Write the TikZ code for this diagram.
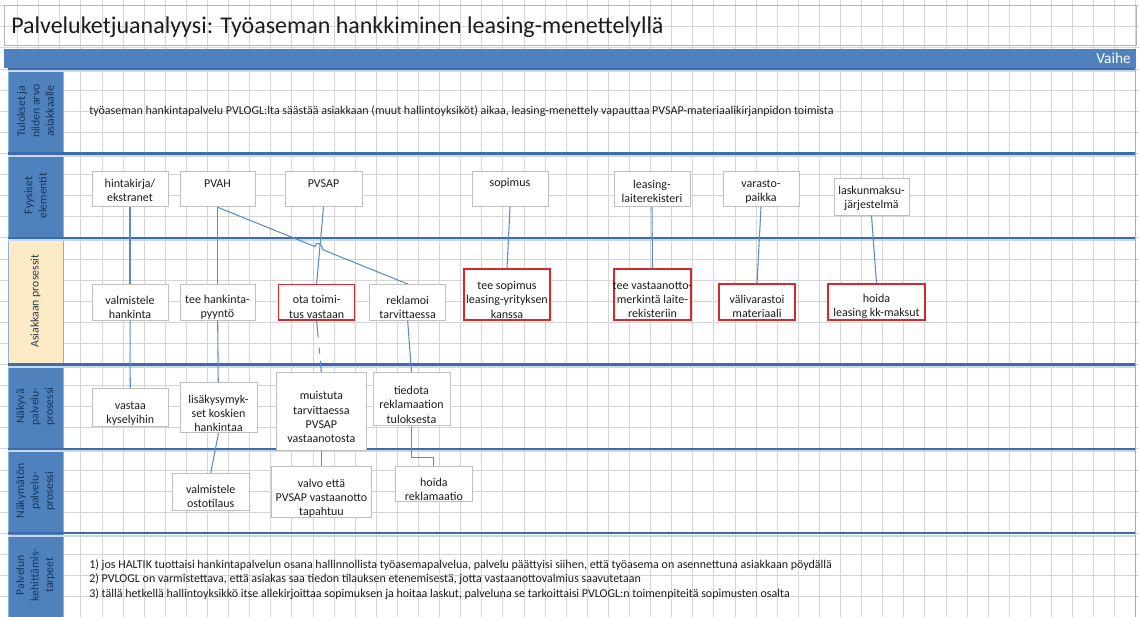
\documentclass[tikz,border=0pt]{standalone}
\usepackage{fontspec}
\setmainfont{Carlito}
\usetikzlibrary{fit,calc}

\definecolor{gridc}{HTML}{D5D5D5}
\definecolor{bandblue}{HTML}{4F81BD}
\definecolor{laneline}{HTML}{3D6CA6}
\definecolor{laneglow}{HTML}{C8D7EB}
\definecolor{laneedge}{HTML}{8FB0D8}
\definecolor{labeltext}{HTML}{17365D}
\definecolor{custfill}{HTML}{FDEBC6}
\definecolor{custtext}{HTML}{2E3A4C}
\definecolor{boxgray}{HTML}{BFBFBF}
\definecolor{boxred}{HTML}{D9272E}
\definecolor{linkblue}{HTML}{5B8CC8}
\definecolor{textdark}{HTML}{1C1C1C}
\definecolor{titleframe}{HTML}{A9B7CA}

\newcommand\pvboxfont{\fontsize{9}{10.6}\selectfont}
\newcommand\pvlabelfont{\fontsize{8.8}{10.8}\selectfont}
\newcommand\pvtitlefont{\fontsize{18}{21}\selectfont}

\tikzset{
  gridline/.style={draw=gridc, line width=0.6pt},
  lanesep/.style={draw=laneline, line width=1.8pt},
  laneshade/.style={draw=laneglow, line width=1.6pt},
  laneborder/.style={draw=laneedge, line width=0.7pt},
  gbox/.style={draw=boxgray, line width=0.75pt, fill=white, inner sep=0pt},
  rbox/.style={gbox, draw=boxred, line width=1.1pt},
  btext/.style={align=center, font=\pvboxfont, text=textdark, inner sep=0pt},
  plaintext/.style={font=\pvboxfont, text=textdark, inner sep=0pt},
  link/.style={draw=linkblue, line width=0.8pt},
  lanelabel/.style={rotate=90, align=center, font=\pvlabelfont, text=labeltext, inner sep=0pt},
}

\begin{document}
\begin{tikzpicture}[x=0.75pt, y=-0.75pt]
\useasboundingbox (0,0) rectangle (1139,617);
\fill[white] (0,0) rectangle (1139,617);

% spreadsheet grid
\foreach \k in {0,...,53}
  \draw[gridline] ({17.5+21.1*\k},0) -- ({17.5+21.1*\k},617);
\foreach \k in {-3,...,26}
  \draw[gridline] (0,{69+21.1*\k}) -- (1139,{69+21.1*\k});

% title frame and heading
\draw[titleframe, line width=0.7pt] (4,5) rectangle (1136,45);
\node[anchor=base west, font=\pvtitlefont, text=textdark, inner sep=0pt] (title) at (11,34)
  {Palveluketjuanalyysi: Työaseman hankkiminen leasing-menettelyllä};

% phase bar
\fill[bandblue] (4,49) rectangle (1136,68);
\node[anchor=base east, font=\fontsize{11.5}{13}\selectfont, text=white, inner sep=0pt] (vaihe) at (1131,64) {Vaihe};

% lane label cells
\fill[bandblue] (8,69) rectangle (63,153.4);
\fill[bandblue] (8,153.4) rectangle (63,237.8);
\fill[custfill] (8,237.8) rectangle (63,364.4);
\fill[bandblue] (8,364.4) rectangle (63,448.8);
\fill[bandblue] (8,448.8) rectangle (63,533.2);
\fill[bandblue] (8,533.2) rectangle (63,617);

% lane frame
\draw[laneborder] (63,69) -- (63,617);
\draw[laneborder] (8,69) -- (8,617);
\draw[laneborder] (1135,69) -- (1135,617);
\foreach \yy in {69,153.4,237.8,364.4,448.8,533.2} {
  \draw[laneshade] (8,{\yy+2.4}) -- (1135,{\yy+2.4});
  \draw[lanesep] (8,\yy) -- (1135,\yy);
}

\node[lanelabel] (l1) at (35.5,111.2) {Tulokset ja\\niiden arvo\\asiakkaalle};
\node[lanelabel] (l2) at (35.5,195.6) {Fyysiset\\elementit};
\node[lanelabel, text=custtext] (l3) at (35.5,301.1) {Asiakkaan prosessit};
\node[lanelabel] (l4) at (35.5,406.6) {Näkyvä\\palvelu-\\prosessi};
\node[lanelabel] (l5) at (35.5,491) {Näkymätön\\palvelu-\\prosessi};
\node[lanelabel] (l6) at (35.5,575.1) {Palvelun\\kehittämis-\\tarpeet};

% lane 1: value for the customer
\node[plaintext, anchor=west] (tulos) at (89,111.5)
  {työaseman hankintapalvelu PVLOGL:lta säästää asiakkaan (muut hallintoyksiköt) aikaa, leasing-menettely vapauttaa PVSAP-materiaalikirjanpidon toimista};

% lane 2: physical elements
\node[gbox, fit={(92,171.7) (168,206.7)}] (hk) {};
\node[btext] (hkt) at ($(hk.center)+(0,1)$) {hintakirja/\\ekstranet};
\node[gbox, fit={(180,171.7) (255,206.7)}] (pvah) {};
\node[btext] (pvaht) at ($(pvah.center)+(0,-6)$) {PVAH};
\node[gbox, fit={(285,171.7) (362,206.7)}] (pvsap) {};
\node[btext] (pvsapt) at ($(pvsap.center)+(0,-6)$) {PVSAP};
\node[gbox, fit={(472,171.7) (548,206.7)}] (sop) {};
\node[btext] (sopt) at ($(sop.center)+(0,-6)$) {sopimus};
\node[gbox, fit={(614,171.7) (690,206.7)}] (leas) {};
\node[btext] (least) at ($(leas.center)+(0,2.6)$) {leasing-\\laiterekisteri};
\node[gbox, fit={(723,171.7) (799,206.7)}] (vara) {};
\node[btext] (varat) at ($(vara.center)+(0,2.6)$) {varasto-\\paikka};
\node[gbox, fit={(834,178) (909,215)}] (lask) {};
\node[btext] (laskt) at ($(lask.center)+(0,1.8)$) {laskunmaksu-\\järjestelmä};

% lane 3: customer processes
\node[gbox, fit={(92,284.5) (168,320)}] (valm) {};
\node[btext] (valmt) at ($(valm.center)+(0,4.7)$) {valmistele\\hankinta};
\node[gbox, fit={(180,284.5) (255,320)}] (teeh) {};
\node[btext] (teeht) at ($(teeh.center)+(0,4.7)$) {tee hankinta-\\pyyntö};
\node[rbox, fit={(278.6,284.5) (354.6,320)}] (ota) {};
\node[btext] (otat) at ($(ota.center)+(0,4.7)$) {ota toimi-\\tus vastaan};
\node[gbox, fit={(369.6,284.5) (445.7,320)}] (rekl) {};
\node[btext] (reklt) at ($(rekl.center)+(0,4.7)$) {reklamoi\\tarvittaessa};
\node[rbox, fit={(464,269) (550,320)}] (teesop) {};
\node[btext] (teesopt) at ($(teesop.center)+(0,5.3)$) {tee sopimus\\leasing-yrityksen\\kanssa};
\node[rbox, fit={(614,269) (691,320)}] (teevast) {};
\node[btext] (teevastt) at ($(teevast.center)+(0,5.5)$) {tee vastaanotto-\\merkintä laite-\\rekisteriin};
\node[rbox, fit={(719,284) (795,320)}] (vali) {};
\node[btext] (valit) at ($(vali.center)+(0,4.7)$) {välivarastoi\\materiaali};
\node[rbox, fit={(828,284) (925,320)}] (hoidal) {};
\node[btext] (hoidalt) at ($(hoidal.center)+(0,4.7)$) {hoida\\leasing kk-maksut};

% lane 4: visible service process
\node[gbox, fit={(92,388.3) (168.6,426.7)}] (vastaa) {};
\node[btext] (vastaat) at ($(vastaa.center)+(0,6)$) {vastaa\\kyselyihin};
\node[gbox, fit={(180,382.7) (257,432.7)}] (lisak) {};
\node[btext] (lisakt) at ($(lisak.center)+(0,6)$) {lisäkysymyk-\\set koskien\\hankintaa};
\node[gbox, fit={(276.8,372.7) (366,450)}] (muist) {};
\node[btext] (muistt) at ($(muist.center)+(0,5.7)$) {muistuta\\tarvittaessa\\PVSAP\\vastaanotosta};
\node[gbox, fit={(373,372.7) (450,425)}] (tied) {};
\node[btext] (tiedt) at ($(tied.center)+(0,6)$) {tiedota\\reklamaation\\tuloksesta};

% lane 5: invisible service process
\node[gbox, fit={(172.5,473.3) (249,510)}] (ostot) {};
\node[btext] (ostott) at ($(ostot.center)+(0,5)$) {valmistele\\ostotilaus};
\node[gbox, fit={(271.4,466.7) (371.4,517.3)}] (valvo) {};
\node[btext] (valvot) at ($(valvo.center)+(0,6.3)$) {valvo että\\PVSAP vastaanotto\\tapahtuu};
\node[gbox, fit={(395.7,466.7) (472,501.7)}] (hoidar) {};
\node[btext] (hoidart) at ($(hoidar.center)+(0,5.1)$) {hoida\\reklamaatio};

% lane 6: development needs
\node[plaintext, anchor=base west] (kt1) at (89,568)
  {1) jos HALTIK tuottaisi hankintapalvelun osana hallinnollista työasemapalvelua, palvelu päättyisi siihen, että työasema on asennettuna asiakkaan pöydällä};
\node[plaintext, anchor=base west] (kt2) at (89,582.5)
  {2) PVLOGL on varmistettava, että asiakas saa tiedon tilauksen etenemisestä, jotta vastaanottovalmius saavutetaan};
\node[plaintext, anchor=base west] (kt3) at (89,597)
  {3) tällä hetkellä hallintoyksikkö itse allekirjoittaa sopimuksen ja hoitaa laskut, palveluna se tarkoittaisi PVLOGL:n toimenpiteitä sopimusten osalta};

% connectors
\draw[link] (hk) -- (valm);
\draw[link] (valm) -- (vastaa);
\draw[link] (pvah.south) -- (teeh.north);
\draw[link] (teeh) -- (lisak);
\draw[link] (lisak.south) -- (ostot.north);
\coordinate (hopA) at ($(pvah.south)!0.512!(rekl.north)$);
\coordinate (hopB) at ($(pvah.south)!0.556!(rekl.north)$);
\draw[link] (pvah.south) -- (hopA)
  .. controls ($(hopA)+(1,-6)$) and ($(hopB)+(-1,-6)$) .. (hopB) -- (rekl.north);
\draw[link] (pvsap.south) -- (ota.north);
\draw[link, dash pattern=on 12.75pt off 7.5pt on 4.5pt off 5.25pt] (ota.south) -- (muist.north);
\draw[link] (muist.south) -- (valvo.north);
\draw[link] (rekl.south) -- (tied.north);
\coordinate (rkbend) at ($(hoidar.north)+(0,-8.4)$);
\draw[link] (tied.south) |- (rkbend) -- (hoidar.north);
\draw[link] (sop.south) -- (teesop.north);
\draw[link] (leas.south) -- (teevast.north);
\draw[link] (vara.south) -- (vali.north);
\draw[link] (lask.south) -- (hoidal.north);
\end{tikzpicture}
\end{document}
